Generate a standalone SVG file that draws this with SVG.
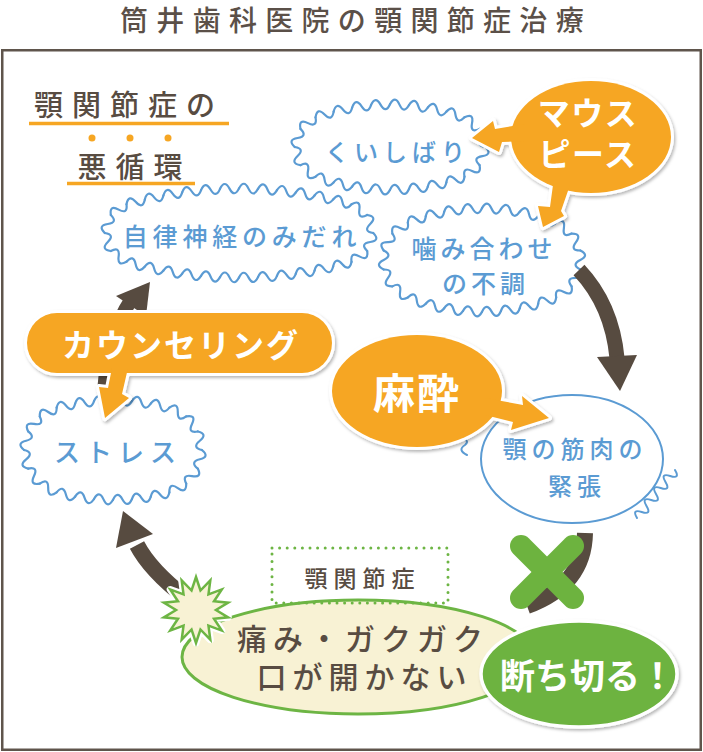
<svg xmlns="http://www.w3.org/2000/svg" width="703" height="752" viewBox="0 0 703 752">
<style>
.t{font-family:"Noto Sans CJK JP","Noto Sans",sans-serif}
.t2{font-family:"Liberation Sans","Noto Sans CJK JP",sans-serif}
.ttl{font-size:28px;letter-spacing:8.3px;fill:#5b5048;font-weight:500}
.lbl{font-size:29px;letter-spacing:9px;fill:#584c42;font-weight:500}
.bt{fill:#5b9bd3;font-weight:500}
.dk{fill:#584c42;font-weight:500}
.wt{fill:#fff;font-weight:700}
.wave{fill:none;stroke:#5b9bd3;stroke-width:2.2;stroke-linecap:round;stroke-linejoin:round}
.oe{fill:#fff;stroke:#fff;stroke-width:6;stroke-linejoin:round}
.of{fill:#f6a623;stroke:none}
.br{fill:none;stroke:#574b40}
.bh{fill:#574b40}
.ul{stroke:#f6a623;stroke-width:3.5}
.sq{fill:none;stroke:#5b9bd3;stroke-width:2;stroke-linecap:round;stroke-linejoin:round}
</style>
<defs>
<path id="wv" d="M0,0q4.75,-9.5 9.5,0t9.5,0"/>
<filter id="sh" x="-10%" y="-15%" width="125%" height="135%"><feDropShadow dx="1.5" dy="2" stdDeviation="1.5" flood-color="#000" flood-opacity="0.28"/></filter>
<g id="mpS"><ellipse cx="591" cy="137" rx="80" ry="56"/><polygon points="472,138 493,121 495,129 525,124 525,141 502,142 499,152"/><polygon points="543,227 538,206 550,207 553,185 570,185 561,211 564,216"/></g>
<g id="cnS"><rect x="27" y="313" width="305" height="60" rx="30"/><polygon points="105,418 99,387 108,388 112,368 128,368 122,394 129,398"/></g>
<g id="msS"><ellipse cx="417" cy="391" rx="85" ry="56"/><polygon points="549,418 522,396 523,405 485,398 485,415 513,422 511,430"/></g>
</defs>

<rect x="0" y="0" width="703" height="752" fill="#fff"/>
<rect id="frame" x="2.25" y="50.25" width="698.5" height="699.5" fill="#fff" stroke="#5f554c" stroke-width="2.5"/>
<text id="title" class="t ttl" x="356" y="19" text-anchor="middle" dominant-baseline="central">筒井歯科医院の顎関節症治療</text>

<g id="heading">
<text class="t lbl" x="34" y="103" dominant-baseline="central">顎関節症の</text>
<line class="ul" x1="29" y1="123.5" x2="229" y2="123.5"/>
<circle cx="92" cy="138" r="3.5" fill="#f6a623"/><circle cx="130" cy="138" r="3.5" fill="#f6a623"/><circle cx="168" cy="138" r="3.5" fill="#f6a623"/>
<text class="t lbl" x="77.5" y="165" dominant-baseline="central">悪循環</text>
<line class="ul" x1="67" y1="183.5" x2="195" y2="183.5"/>
</g>

<g id="n-kuishibari">
<ellipse cx="390" cy="147" rx="90" ry="39" fill="#fff"/>
<g class="wave">
<g transform="translate(390 104.2) rotate(2.5)"><use href="#wv"/>
<g transform="translate(19) rotate(5)"><use href="#wv"/>
<g transform="translate(19) rotate(5)"><use href="#wv"/>
<g transform="translate(19) rotate(5)"><use href="#wv"/>
<g transform="translate(19) rotate(20)"><use href="#wv"/>
<g transform="translate(19) rotate(35)"><use href="#wv"/>
<g transform="translate(19) rotate(35)"><use href="#wv"/>
<g transform="translate(19) rotate(35)"><use href="#wv"/>
<g transform="translate(19) rotate(20)"><use href="#wv"/>
<g transform="translate(19) rotate(5)"><use href="#wv"/>
<g transform="translate(19) rotate(5)"><use href="#wv"/>
<g transform="translate(19) rotate(5)"><use href="#wv"/>
<g transform="translate(19) rotate(5)"><use href="#wv"/>
<g transform="translate(19) rotate(5)"><use href="#wv"/>
<g transform="translate(19) rotate(5)"><use href="#wv"/>
<g transform="translate(19) rotate(5)"><use href="#wv"/>
<g transform="translate(19) rotate(20)"><use href="#wv"/>
<g transform="translate(19) rotate(35)"><use href="#wv"/>
<g transform="translate(19) rotate(35)"><use href="#wv"/>
<g transform="translate(19) rotate(35)"><use href="#wv"/>
<g transform="translate(19) rotate(20)"><use href="#wv"/>
<g transform="translate(19) rotate(5)"><use href="#wv"/>
<g transform="translate(19) rotate(5)"><use href="#wv"/>
<g transform="translate(19) rotate(5)"><use href="#wv"/>
</g></g></g></g></g></g></g></g></g></g></g></g></g></g></g></g></g></g></g></g></g></g></g></g>
</g>
<text class="t bt" x="397.5" y="150" font-size="24" letter-spacing="5" text-anchor="middle" dominant-baseline="central">くいしばり</text>
</g>

<g id="n-jiritsu">
<ellipse cx="239" cy="233" rx="128" ry="40" fill="#fff"/>
<g class="wave">
<g transform="translate(239 188.4) rotate(1.3333)"><use href="#wv"/>
<g transform="translate(19) rotate(2.6667)"><use href="#wv"/>
<g transform="translate(19) rotate(2.6667)"><use href="#wv"/>
<g transform="translate(19) rotate(2.6667)"><use href="#wv"/>
<g transform="translate(19) rotate(2.6667)"><use href="#wv"/>
<g transform="translate(19) rotate(2.6667)"><use href="#wv"/>
<g transform="translate(19) rotate(19.8333)"><use href="#wv"/>
<g transform="translate(19) rotate(37)"><use href="#wv"/>
<g transform="translate(19) rotate(37)"><use href="#wv"/>
<g transform="translate(19) rotate(37)"><use href="#wv"/>
<g transform="translate(19) rotate(19.8333)"><use href="#wv"/>
<g transform="translate(19) rotate(2.6667)"><use href="#wv"/>
<g transform="translate(19) rotate(2.6667)"><use href="#wv"/>
<g transform="translate(19) rotate(2.6667)"><use href="#wv"/>
<g transform="translate(19) rotate(2.6667)"><use href="#wv"/>
<g transform="translate(19) rotate(2.6667)"><use href="#wv"/>
<g transform="translate(19) rotate(2.6667)"><use href="#wv"/>
<g transform="translate(19) rotate(2.6667)"><use href="#wv"/>
<g transform="translate(19) rotate(2.6667)"><use href="#wv"/>
<g transform="translate(19) rotate(2.6667)"><use href="#wv"/>
<g transform="translate(19) rotate(2.6667)"><use href="#wv"/>
<g transform="translate(19) rotate(2.6667)"><use href="#wv"/>
<g transform="translate(19) rotate(19.8333)"><use href="#wv"/>
<g transform="translate(19) rotate(37)"><use href="#wv"/>
<g transform="translate(19) rotate(37)"><use href="#wv"/>
<g transform="translate(19) rotate(37)"><use href="#wv"/>
<g transform="translate(19) rotate(19.8333)"><use href="#wv"/>
<g transform="translate(19) rotate(2.6667)"><use href="#wv"/>
<g transform="translate(19) rotate(2.6667)"><use href="#wv"/>
<g transform="translate(19) rotate(2.6667)"><use href="#wv"/>
<g transform="translate(19) rotate(2.6667)"><use href="#wv"/>
<g transform="translate(19) rotate(2.6667)"><use href="#wv"/>
</g></g></g></g></g></g></g></g></g></g></g></g></g></g></g></g></g></g></g></g></g></g></g></g></g></g></g></g></g></g></g></g>
</g>
<text class="t bt" x="242" y="235" font-size="25" letter-spacing="4.8" text-anchor="middle" dominant-baseline="central">自律神経のみだれ</text>
</g>

<g id="n-kamiawase">
<ellipse cx="482" cy="260" rx="92" ry="47" fill="#fff"/>
<g class="wave">
<g transform="translate(482 208.1) rotate(2.75)"><use href="#wv"/>
<g transform="translate(19) rotate(5.5)"><use href="#wv"/>
<g transform="translate(19) rotate(5.5)"><use href="#wv"/>
<g transform="translate(19) rotate(5.5)"><use href="#wv"/>
<g transform="translate(19) rotate(16.35)"><use href="#wv"/>
<g transform="translate(19) rotate(27.2)"><use href="#wv"/>
<g transform="translate(19) rotate(27.2)"><use href="#wv"/>
<g transform="translate(19) rotate(27.2)"><use href="#wv"/>
<g transform="translate(19) rotate(27.2)"><use href="#wv"/>
<g transform="translate(19) rotate(16.35)"><use href="#wv"/>
<g transform="translate(19) rotate(5.5)"><use href="#wv"/>
<g transform="translate(19) rotate(5.5)"><use href="#wv"/>
<g transform="translate(19) rotate(5.5)"><use href="#wv"/>
<g transform="translate(19) rotate(5.5)"><use href="#wv"/>
<g transform="translate(19) rotate(5.5)"><use href="#wv"/>
<g transform="translate(19) rotate(5.5)"><use href="#wv"/>
<g transform="translate(19) rotate(5.5)"><use href="#wv"/>
<g transform="translate(19) rotate(16.35)"><use href="#wv"/>
<g transform="translate(19) rotate(27.2)"><use href="#wv"/>
<g transform="translate(19) rotate(27.2)"><use href="#wv"/>
<g transform="translate(19) rotate(27.2)"><use href="#wv"/>
<g transform="translate(19) rotate(27.2)"><use href="#wv"/>
<g transform="translate(19) rotate(16.35)"><use href="#wv"/>
<g transform="translate(19) rotate(5.5)"><use href="#wv"/>
<g transform="translate(19) rotate(5.5)"><use href="#wv"/>
<g transform="translate(19) rotate(5.5)"><use href="#wv"/>
</g></g></g></g></g></g></g></g></g></g></g></g></g></g></g></g></g></g></g></g></g></g></g></g></g></g>
</g>
<text class="t bt" font-size="25" letter-spacing="4" text-anchor="middle" dominant-baseline="central"><tspan x="484" y="247">噛み合わせ</tspan><tspan x="485.5" y="282">の不調</tspan></text>
</g>

<g id="n-stress">
<ellipse cx="113" cy="450" rx="84" ry="45" fill="#fff"/>
<g class="wave">
<g transform="translate(113 400.2) rotate(2.5)"><use href="#wv"/>
<g transform="translate(19) rotate(5)"><use href="#wv"/>
<g transform="translate(19) rotate(5)"><use href="#wv"/>
<g transform="translate(19) rotate(15)"><use href="#wv"/>
<g transform="translate(19) rotate(25)"><use href="#wv"/>
<g transform="translate(19) rotate(25)"><use href="#wv"/>
<g transform="translate(19) rotate(25)"><use href="#wv"/>
<g transform="translate(19) rotate(25)"><use href="#wv"/>
<g transform="translate(19) rotate(25)"><use href="#wv"/>
<g transform="translate(19) rotate(15)"><use href="#wv"/>
<g transform="translate(19) rotate(5)"><use href="#wv"/>
<g transform="translate(19) rotate(5)"><use href="#wv"/>
<g transform="translate(19) rotate(5)"><use href="#wv"/>
<g transform="translate(19) rotate(5)"><use href="#wv"/>
<g transform="translate(19) rotate(5)"><use href="#wv"/>
<g transform="translate(19) rotate(15)"><use href="#wv"/>
<g transform="translate(19) rotate(25)"><use href="#wv"/>
<g transform="translate(19) rotate(25)"><use href="#wv"/>
<g transform="translate(19) rotate(25)"><use href="#wv"/>
<g transform="translate(19) rotate(25)"><use href="#wv"/>
<g transform="translate(19) rotate(25)"><use href="#wv"/>
<g transform="translate(19) rotate(15)"><use href="#wv"/>
<g transform="translate(19) rotate(5)"><use href="#wv"/>
<g transform="translate(19) rotate(5)"><use href="#wv"/>
</g></g></g></g></g></g></g></g></g></g></g></g></g></g></g></g></g></g></g></g></g></g></g></g>
</g>
<text class="t bt" x="118" y="450" font-size="26" letter-spacing="6" text-anchor="middle" dominant-baseline="central">ストレス</text>
</g>

<g id="n-muscle">
<path class="sq" d="M459,437q12,3 6,8q-8,5 2,10"/>
<path class="sq" d="M675,470q5.5,9.23 -4.75,6t-4.75,6t-4.75,6t-4.75,6t-4.75,6t-4.75,6t-4.75,6t-4.75,6"/>
<ellipse cx="572" cy="459" rx="91" ry="64" fill="#fff" stroke="#5b9bd3" stroke-width="2"/>
<text class="t bt" font-size="24" letter-spacing="5" text-anchor="middle" dominant-baseline="central"><tspan x="575" y="447">顎の筋肉の</tspan><tspan x="577" y="484">緊張</tspan></text>
</g>

<g id="connectors">
<path class="br" stroke-width="15" d="M579,270Q612,305 617,358"/>
<polygon class="bh" points="597,357 637,355 620,391"/>
<path class="br" stroke-width="16" d="M585,533Q584,585 527,606"/>
<path class="br" stroke-width="16" d="M186,598Q150,570 137,545"/>
<polygon class="bh" points="123,511 116,548 153,534"/>
<path class="br" stroke-width="14" d="M104,392Q108,335 131,300"/>
<polygon class="bh" points="150,282 116,296 146,316"/>
</g>

<g id="n-mouthpiece">
<use href="#mpS" class="oe" filter="url(#sh)"/>
<use href="#mpS" class="of"/>
<text class="t2 wt" font-size="32" letter-spacing="1.5" text-anchor="middle" dominant-baseline="central"><tspan x="588" y="114">マウス</tspan><tspan x="588" y="155">ピース</tspan></text>
</g>

<g id="n-counseling">
<use href="#cnS" class="oe" filter="url(#sh)"/>
<use href="#cnS" class="of"/>
<text class="t wt" x="181" y="343" font-size="32" letter-spacing="2" text-anchor="middle" dominant-baseline="central">カウンセリング</text>
</g>

<g id="n-masui">
<use href="#msS" class="oe" filter="url(#sh)"/>
<use href="#msS" class="of"/>
<text class="t wt" x="417" y="390" font-size="42" letter-spacing="2" text-anchor="middle" dominant-baseline="central">麻酔</text>
</g>

<g id="n-symptom">
<ellipse cx="358" cy="657" rx="176" ry="57" fill="#f8f2d4" stroke="#6db544" stroke-width="3"/>
<g transform="translate(196 610)">
<polygon points="0,-33 4.45,-19.5 14.32,-29.73 12.47,-15.64 25.8,-20.58 18.02,-8.68 32.17,-7.34 20,0 32.17,7.34 18.02,8.68 25.8,20.58 12.47,15.64 14.32,29.73 4.45,19.5 0,33 -4.45,19.5 -14.32,29.73 -12.47,15.64 -25.8,20.58 -18.02,8.68 -32.17,7.34 -20,0 -32.17,-7.34 -18.02,-8.68 -25.8,-20.58 -12.47,-15.64 -14.32,-29.73 -4.45,-19.5" fill="#fff" stroke="#fff" stroke-width="7" stroke-linejoin="round"/>
<polygon points="0,-33 4.45,-19.5 14.32,-29.73 12.47,-15.64 25.8,-20.58 18.02,-8.68 32.17,-7.34 20,0 32.17,7.34 18.02,8.68 25.8,20.58 12.47,15.64 14.32,29.73 4.45,19.5 0,33 -4.45,19.5 -14.32,29.73 -12.47,15.64 -25.8,20.58 -18.02,8.68 -32.17,7.34 -20,0 -32.17,-7.34 -18.02,-8.68 -25.8,-20.58 -12.47,-15.64 -14.32,-29.73 -4.45,-19.5" fill="#f8f2d4" stroke="#6db544" stroke-width="2.5" stroke-linejoin="miter"/>
</g>
<text class="t2 dk" font-size="30" letter-spacing="6" text-anchor="middle" dominant-baseline="central"><tspan x="363" y="639">痛み・ガクガク</tspan><tspan x="364.5" y="677">口が開かない</tspan></text>
</g>

<g id="n-tmd">
<rect x="272" y="548" width="176" height="55" fill="none" stroke="#6db544" stroke-width="3" stroke-dasharray="0 7.6" stroke-linecap="round"/>
<text class="t dk" x="362.5" y="577" font-size="23" letter-spacing="6" text-anchor="middle" dominant-baseline="central">顎関節症</text>
</g>

<g id="n-cross">
<line x1="521" y1="546" x2="573" y2="598" stroke="#6db33f" stroke-width="22" stroke-linecap="round"/>
<line x1="573" y1="546" x2="521" y2="598" stroke="#6db33f" stroke-width="22" stroke-linecap="round"/>
</g>

<g id="n-cut">
<ellipse cx="579" cy="674" rx="98" ry="53" fill="#6db33f" stroke="#fff" stroke-width="3.5" filter="url(#sh)"/>
<text class="t wt" x="500" y="673" font-size="35" dominant-baseline="central">断ち切る！</text>
</g>
</svg>
